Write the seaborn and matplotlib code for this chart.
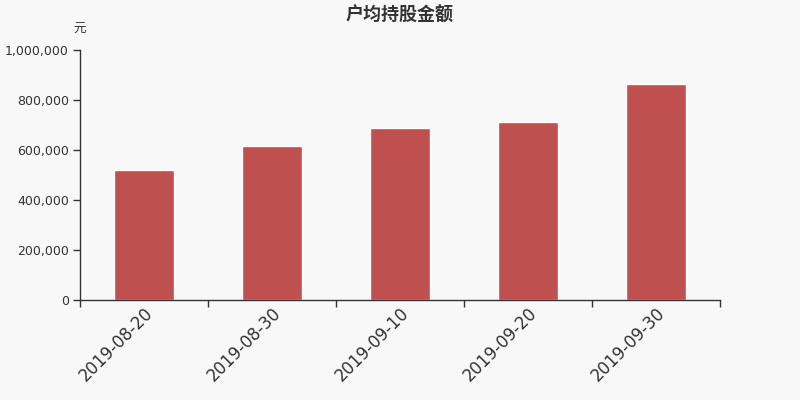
import pandas as pd
import matplotlib
matplotlib.use("Agg")
import matplotlib.pyplot as plt
import matplotlib.ticker as mticker
import seaborn as sns

# chart data
dates = ['2019-08-20', '2019-08-30', '2019-09-10', '2019-09-20', '2019-09-30']
amounts = [520000, 616000, 688000, 712000, 865000]

sns.set_theme(style="white")
plt.rcParams['font.family'] = ['DejaVu Sans', 'Noto Sans CJK SC']

df = pd.DataFrame({'date': dates, 'amount': amounts})

fig = plt.figure(figsize=(8, 4), dpi=100, facecolor='#f8f8f8')
ax = fig.add_axes([0.1, 0.25, 0.8, 0.625])
ax.set_facecolor('#f8f8f8')

sns.barplot(data=df, x='date', y='amount', color='#c0504d', width=0.47,
            saturation=1, ax=ax)

ax.set_xlim(-0.5, len(dates) - 0.5)
ax.set_ylim(0, 1000000)
ax.yaxis.set_major_locator(mticker.MultipleLocator(200000))
ax.yaxis.set_major_formatter(mticker.FuncFormatter(lambda v, p: f'{int(v):,}'))

# ticks on category boundaries, labels centred under bars
ax.set_xticks([i - 0.5 for i in range(len(dates) + 1)], minor=True)
ax.tick_params(axis='x', which='minor', length=5, width=1, color='#333333',
               direction='out', bottom=True)
ax.tick_params(axis='x', which='major', length=0, labelsize=12, labelcolor='#333333', pad=3)
ax.tick_params(axis='y', length=5, width=1, color='#333333', direction='out',
               labelsize=9, labelcolor='#333333', left=True, pad=3)
for lab in ax.get_xticklabels():
    lab.set_rotation(45)
    lab.set_ha('right')
    lab.set_rotation_mode('anchor')

for s in ['top', 'right']:
    ax.spines[s].set_visible(False)
for s in ['left', 'bottom']:
    ax.spines[s].set_color('#333333')
    ax.spines[s].set_linewidth(1)

ax.set_xlabel('')
ax.set_ylabel('')
ax.text(0, 1.055, '元', transform=ax.transAxes, ha='center', va='bottom',
        fontsize=9, color='#333333')
fig.text(0.5, 0.962, '户均持股金额', ha='center', va='center', fontsize=13,
         fontweight='bold', color='#333333')

fig.savefig('out.png', dpi=100, facecolor='#f8f8f8')
